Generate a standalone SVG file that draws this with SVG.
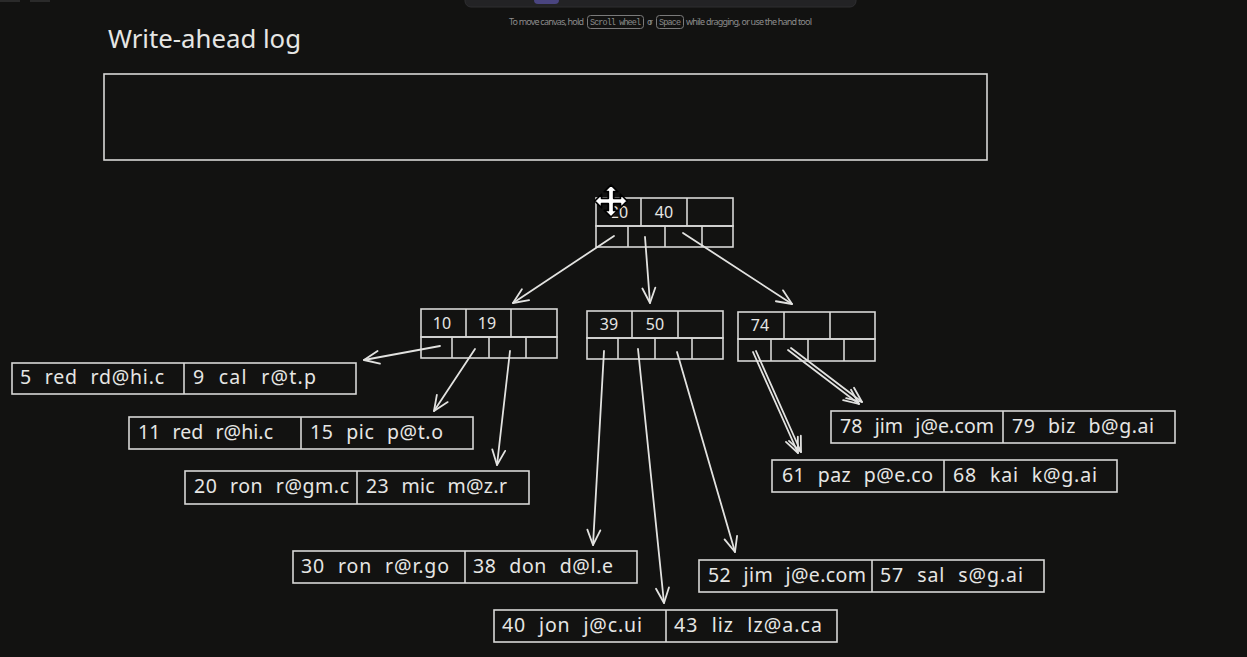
<svg xmlns="http://www.w3.org/2000/svg" width="1247" height="657" viewBox="0 0 1247 657">
<defs>
<style>
.bx{fill:none;stroke:#d8d8d6;stroke-width:1.6}
.ln{stroke:#d8d8d6;stroke-width:1.6}
.t{font-family:"Noto Sans","DejaVu Sans",sans-serif;font-size:19.5px;fill:#e6e6e4;word-spacing:7px}
.k{font-family:"Noto Sans","DejaVu Sans",sans-serif;font-size:16px;fill:#e6e6e4;text-anchor:middle}
.c{fill:none;stroke:#e2e2e0;stroke-width:1.8;stroke-linecap:round}
.h{font-family:"Noto Sans","DejaVu Sans",sans-serif;font-size:9px;fill:#8c8c8c}
.kb{font-family:"Liberation Mono","DejaVu Sans Mono",monospace;font-size:8.5px;fill:#8c8c8c}
</style>
<marker id="arr" viewBox="-18 -10 20 20" refX="0" refY="0" markerWidth="20" markerHeight="20" markerUnits="userSpaceOnUse" orient="auto">
<path d="M -15 -6.5 L 0 0 L -15 6.5" fill="none" stroke="#e2e2e0" stroke-width="1.8" stroke-linecap="round" stroke-linejoin="round"/>
</marker>
</defs>
<rect x="0" y="0" width="1247" height="657" fill="#121211"/>
<g id="toolbar">
<rect x="0" y="0" width="20" height="2" fill="#2a2a2a"/>
<rect x="30" y="0" width="20" height="2" fill="#2a2a2a"/>
<rect x="465" y="-12" width="391" height="19" rx="6" fill="#232325" stroke="#2e2e31" stroke-width="1"/>
<rect x="534" y="-6" width="25" height="10" rx="4" fill="#4a4580"/>
</g>
<g id="hint">
<text class="h" x="509" y="25" textLength="75" lengthAdjust="spacing">To move canvas, hold</text>
<rect x="587.5" y="15.5" width="56" height="13" rx="3" fill="none" stroke="#7a7a7a" stroke-width="1"/>
<text class="kb" x="590" y="25" textLength="51" lengthAdjust="spacing">Scroll wheel</text>
<text class="h" x="647" y="25" textLength="6" lengthAdjust="spacing">or</text>
<rect x="656.5" y="15.5" width="27" height="13" rx="3" fill="none" stroke="#7a7a7a" stroke-width="1"/>
<text class="kb" x="659" y="25" textLength="22" lengthAdjust="spacing">Space</text>
<text class="h" x="686" y="25" textLength="126" lengthAdjust="spacing">while dragging, or use the hand tool</text>
</g>
<g id="title">
<text x="108" y="48" font-family="'Noto Sans','DejaVu Sans',sans-serif" font-size="26" fill="#e6e6e4" textLength="193" lengthAdjust="spacingAndGlyphs">Write-ahead log</text>
</g>
<g id="wal-box">
<rect class="bx" x="104" y="74" width="883" height="86"/>
</g>
<g id="node-root">
<rect class="bx" x="596" y="198" width="137" height="28"/>
<line class="ln" x1="641" y1="198" x2="641" y2="226"/>
<line class="ln" x1="687" y1="198" x2="687" y2="226"/>
<rect class="bx" x="596" y="226" width="137" height="21"/>
<line class="ln" x1="628" y1="226" x2="628" y2="247"/>
<line class="ln" x1="665" y1="226" x2="665" y2="247"/>
<line class="ln" x1="702" y1="226" x2="702" y2="247"/>
<text class="k" x="619" y="218">20</text>
<text class="k" x="664" y="218">40</text>
</g>
<g id="node-a">
<rect class="bx" x="421" y="309" width="136" height="28"/>
<line class="ln" x1="466" y1="309" x2="466" y2="337"/>
<line class="ln" x1="511" y1="309" x2="511" y2="337"/>
<rect class="bx" x="421" y="337" width="136" height="21"/>
<line class="ln" x1="452" y1="337" x2="452" y2="358"/>
<line class="ln" x1="489" y1="337" x2="489" y2="358"/>
<line class="ln" x1="526" y1="337" x2="526" y2="358"/>
<text class="k" x="442" y="329">10</text>
<text class="k" x="487" y="329">19</text>
</g>
<g id="node-b">
<rect class="bx" x="587" y="311" width="136" height="27"/>
<line class="ln" x1="632" y1="311" x2="632" y2="338"/>
<line class="ln" x1="678" y1="311" x2="678" y2="338"/>
<rect class="bx" x="587" y="338" width="136" height="21"/>
<line class="ln" x1="618" y1="338" x2="618" y2="359"/>
<line class="ln" x1="655" y1="338" x2="655" y2="359"/>
<line class="ln" x1="692" y1="338" x2="692" y2="359"/>
<text class="k" x="609" y="330">39</text>
<text class="k" x="655" y="330">50</text>
</g>
<g id="node-c">
<rect class="bx" x="738" y="312" width="137" height="27"/>
<line class="ln" x1="784" y1="312" x2="784" y2="339"/>
<line class="ln" x1="830" y1="312" x2="830" y2="339"/>
<rect class="bx" x="738" y="339" width="137" height="22"/>
<line class="ln" x1="771" y1="339" x2="771" y2="361"/>
<line class="ln" x1="808" y1="339" x2="808" y2="361"/>
<line class="ln" x1="844" y1="339" x2="844" y2="361"/>
<text class="k" x="760" y="331">74</text>
</g>
<g id="leaf-5-9">
<rect class="bx" x="12" y="363" width="344" height="31"/>
<line class="ln" x1="184" y1="363" x2="184" y2="394"/>
<text class="t" x="20" y="384" textLength="144" lengthAdjust="spacing">5 red rd@hi.c</text>
<text class="t" x="193" y="384" textLength="123" lengthAdjust="spacing">9 cal r@t.p</text>
</g>
<g id="leaf-11-15">
<rect class="bx" x="129" y="417" width="344" height="32"/>
<line class="ln" x1="301" y1="417" x2="301" y2="449"/>
<text class="t" x="138" y="439" textLength="135" lengthAdjust="spacing">11 red r@hi.c</text>
<text class="t" x="310" y="439" textLength="133" lengthAdjust="spacing">15 pic p@t.o</text>
</g>
<g id="leaf-20-23">
<rect class="bx" x="185" y="471" width="344" height="33"/>
<line class="ln" x1="357" y1="471" x2="357" y2="504"/>
<text class="t" x="194" y="493" textLength="155" lengthAdjust="spacing">20 ron r@gm.c</text>
<text class="t" x="366" y="493" textLength="141" lengthAdjust="spacing">23 mic m@z.r</text>
</g>
<g id="leaf-30-38">
<rect class="bx" x="293" y="551" width="344" height="32"/>
<line class="ln" x1="465" y1="551" x2="465" y2="583"/>
<text class="t" x="301" y="573" textLength="148" lengthAdjust="spacing">30 ron r@r.go</text>
<text class="t" x="473" y="573" textLength="140" lengthAdjust="spacing">38 don d@l.e</text>
</g>
<g id="leaf-40-43">
<rect class="bx" x="494" y="610" width="343" height="32"/>
<line class="ln" x1="666" y1="610" x2="666" y2="642"/>
<text class="t" x="502" y="632" textLength="140" lengthAdjust="spacing">40 jon j@c.ui</text>
<text class="t" x="674" y="632" textLength="148" lengthAdjust="spacing">43 liz lz@a.ca</text>
</g>
<g id="leaf-52-57">
<rect class="bx" x="699" y="560" width="345" height="32"/>
<line class="ln" x1="872" y1="560" x2="872" y2="592"/>
<text class="t" x="708" y="582" textLength="158" lengthAdjust="spacing">52 jim j@e.com</text>
<text class="t" x="880" y="582" textLength="143" lengthAdjust="spacing">57 sal s@g.ai</text>
</g>
<g id="leaf-61-68">
<rect class="bx" x="772" y="460" width="345" height="32"/>
<line class="ln" x1="944" y1="460" x2="944" y2="492"/>
<text class="t" x="782" y="482" textLength="151" lengthAdjust="spacing">61 paz p@e.co</text>
<text class="t" x="953" y="482" textLength="144" lengthAdjust="spacing">68 kai k@g.ai</text>
</g>
<g id="leaf-78-79">
<rect class="bx" x="831" y="411" width="344" height="32"/>
<line class="ln" x1="1003" y1="411" x2="1003" y2="443"/>
<text class="t" x="840" y="433" textLength="154" lengthAdjust="spacing">78 jim j@e.com</text>
<text class="t" x="1012" y="433" textLength="142" lengthAdjust="spacing">79 biz b@g.ai</text>
</g>
<g id="connectors">
<line class="c" x1="614" y1="236" x2="513" y2="303" marker-end="url(#arr)"/>
<line class="c" x1="645" y1="237" x2="650" y2="303" marker-end="url(#arr)"/>
<line class="c" x1="683" y1="233" x2="792" y2="304" marker-end="url(#arr)"/>
<line class="c" x1="440" y1="346" x2="364" y2="360" marker-end="url(#arr)"/>
<line class="c" x1="475" y1="349" x2="434" y2="411" marker-end="url(#arr)"/>
<line class="c" x1="510" y1="351" x2="497" y2="465" marker-end="url(#arr)"/>
<line class="c" x1="604" y1="351" x2="593" y2="545" marker-end="url(#arr)"/>
<line class="c" x1="638" y1="349" x2="664" y2="603" marker-end="url(#arr)"/>
<line class="c" x1="677" y1="352" x2="735" y2="552" marker-end="url(#arr)"/>
<line class="c" x1="753" y1="352" x2="798" y2="453" marker-end="url(#arr)"/>
<line class="c" x1="756" y1="351" x2="801" y2="452" marker-end="url(#arr)"/>
<line class="c" x1="788" y1="350" x2="859" y2="404" marker-end="url(#arr)"/>
<line class="c" x1="791" y1="348" x2="862" y2="402" marker-end="url(#arr)"/>
</g>
<g id="cursor">
<path transform="translate(611 201) scale(1.35) translate(-608 -201)" d="M608 189 L613 194 L610 194 L610 199 L615 199 L615 196 L620 201 L615 206 L615 203 L610 203 L610 208 L613 208 L608 213 L603 208 L606 208 L606 203 L601 203 L601 206 L596 201 L601 196 L601 199 L606 199 L606 194 L603 194 Z" fill="#ffffff" stroke="#000000" stroke-width="1.3" stroke-linejoin="round"/>
</g>
</svg>
